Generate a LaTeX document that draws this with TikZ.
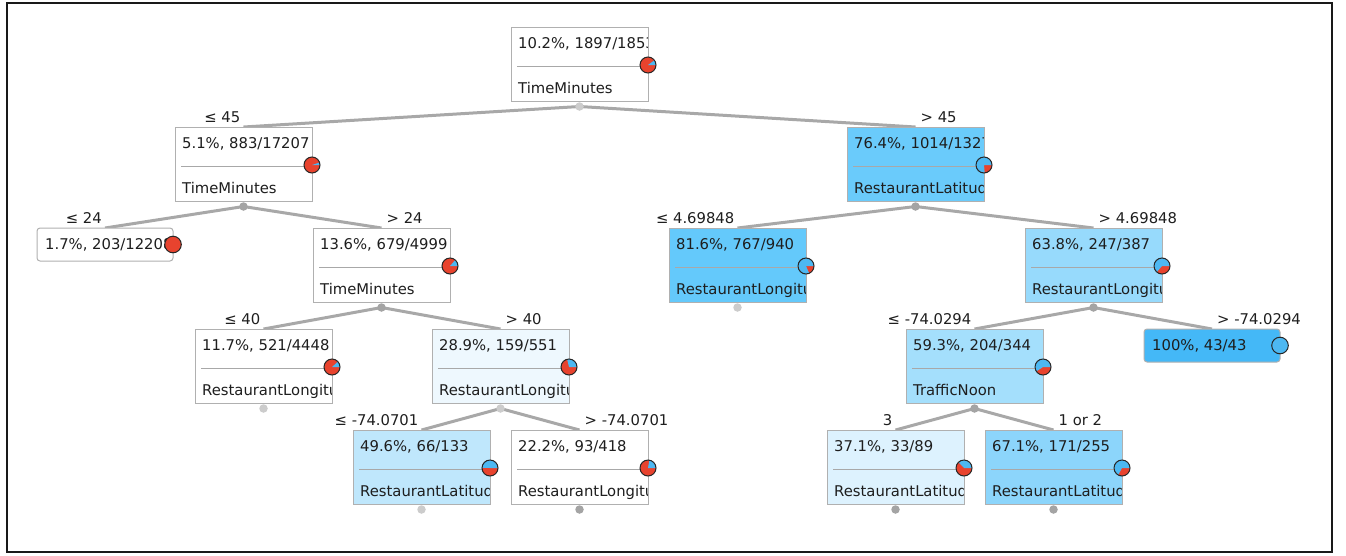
\documentclass[tikz,border=0pt]{standalone}
\usepackage{fontspec}
\setmainfont{DejaVu Sans}
\usetikzlibrary{calc}
\pgfdeclarelayer{bg}
\pgfsetlayers{bg,main}
\definecolor{pred}{HTML}{E8432E}
\definecolor{pblue}{HTML}{4DB8F2}
\definecolor{boxgray}{HTML}{B0B0B0}
\definecolor{sepgray}{HTML}{A8A8A8}
\definecolor{edgegray}{HTML}{A8A8A8}
\definecolor{dotlight}{HTML}{CCCCCC}
\definecolor{dotdark}{HTML}{A4A4A4}
\definecolor{txtcol}{HTML}{1E1E1E}
\definecolor{fLRR}{HTML}{EEF8FE}
\definecolor{fLRRL}{HTML}{BFE7FC}
\definecolor{fR}{HTML}{6ACBFB}
\definecolor{fRL}{HTML}{64C9FB}
\definecolor{fRR}{HTML}{97DAFC}
\definecolor{fRRL}{HTML}{A4DFFC}
\definecolor{fRRR}{HTML}{44B8F7}
\definecolor{fRRLL}{HTML}{DDF2FE}
\definecolor{fRRLR}{HTML}{8CD5FB}
\tikzset{
  tbox/.style={draw=boxgray, line width=1pt, minimum width=137pt, minimum height=74pt, inner sep=0pt, outer sep=0pt, anchor=north west},
  lbox/.style={draw=boxgray, line width=1pt, minimum width=136pt, minimum height=33pt, inner sep=0pt, outer sep=0pt, anchor=north west, rounded corners=3pt},
  txt/.style={inner sep=0pt, font=\fontsize{14.8}{17}\selectfont, anchor=base west, text=txtcol},
  cond/.style={inner sep=0pt, font=\fontsize{14.8}{17}\selectfont, text=txtcol},
  sepline/.style={draw=sepgray, line width=0.9pt},
  edgeline/.style={draw=edgegray, line width=3pt},
  dotl/.style={circle, fill=dotlight, minimum size=8.5pt, inner sep=0pt},
  dotd/.style={circle, fill=dotdark, minimum size=8.5pt, inner sep=0pt},
  pieedge/.style={draw=black!85, line width=1pt},
}
% name, x, y, fill, frac, line1, line2, dotstyle
\newcommand\treenode[8]{%
  \node[tbox, fill=#4] (#1) at (#2,#3) {};
  \begin{scope}
    \clip ($(#1.north west)+(1,1)$) rectangle ($(#1.south east)+(-1,-1)$);
    \node[txt] (#1-t) at ($(#1.north west)+(7,21)$) {#6};
    \node[txt] (#1-v) at ($(#1.north west)+(7,66)$) {#7};
  \end{scope}
  \draw[sepline] ($(#1.north west)+(6,39)$) -- ($(#1.north east)+(-4,39)$);
  \coordinate (#1-pie) at ($(#1.north east)+(0,38)$);
  \fill[pred] (#1-pie) circle (8);
  \fill[pblue] (#1-pie) -- ++(8,0) arc[start angle=0, end angle={-360*#5}, radius=8] -- cycle;
  \draw[pieedge] (#1-pie) circle (8);
  \node[#8] (#1-dot) at ($(#1.south)+(0,5.5)$) {};
}
% name, x, y, fill, text, circle colour
\newcommand\leafnode[6]{%
  \node[lbox, fill=#4] (#1) at (#2,#3) {};
  \begin{scope}
    \clip ($(#1.north west)+(1,1)$) rectangle ($(#1.south east)+(-1,-1)$);
    \node[txt] (#1-t) at ($(#1.north west)+(8,21)$) {#5};
  \end{scope}
  \coordinate (#1-pie) at (#1.east);
  \fill[#6] (#1-pie) circle (8.3);
  \draw[pieedge] (#1-pie) circle (8.3);
}
\begin{document}
\begin{tikzpicture}[x=1pt,y=-1pt]
\useasboundingbox (0,0) rectangle (1346,555);
\draw[black!90, line width=1.5pt] (7,3) rectangle (1332,552);

\treenode{root}{511}{27}{white}{0.102}{10.2\%, 1897/18534}{TimeMinutes}{dotl}
\treenode{L}{175}{127}{white}{0.051}{5.1\%, 883/17207}{TimeMinutes}{dotd}
\leafnode{LL}{37}{228}{white}{1.7\%, 203/12208}{pred}
\treenode{LR}{313}{228}{white}{0.136}{13.6\%, 679/4999}{TimeMinutes}{dotd}
\treenode{LRL}{195}{329}{white}{0.117}{11.7\%, 521/4448}{RestaurantLongitude}{dotl}
\treenode{LRR}{432}{329}{fLRR}{0.289}{28.9\%, 159/551}{RestaurantLongitude}{dotl}
\treenode{LRRL}{353}{430}{fLRRL}{0.496}{49.6\%, 66/133}{RestaurantLatitude}{dotl}
\treenode{LRRR}{511}{430}{white}{0.222}{22.2\%, 93/418}{RestaurantLongitude}{dotd}
\treenode{R}{847}{127}{fR}{0.764}{76.4\%, 1014/1327}{RestaurantLatitude}{dotd}
\treenode{RL}{669}{228}{fRL}{0.816}{81.6\%, 767/940}{RestaurantLongitude}{dotl}
\treenode{RR}{1025}{228}{fRR}{0.638}{63.8\%, 247/387}{RestaurantLongitude}{dotd}
\treenode{RRL}{906}{329}{fRRL}{0.593}{59.3\%, 204/344}{TrafficNoon}{dotd}
\leafnode{RRR}{1144}{329}{fRRR}{100\%, 43/43}{pblue}
\treenode{RRLL}{827}{430}{fRRLL}{0.371}{37.1\%, 33/89}{RestaurantLatitude}{dotd}
\treenode{RRLR}{985}{430}{fRRLR}{0.671}{67.1\%, 171/255}{RestaurantLatitude}{dotd}

\begin{pgfonlayer}{bg}
\draw[edgeline] (root-dot.center) -- (L.north);
\draw[edgeline] (root-dot.center) -- (R.north);
\draw[edgeline] (L-dot.center) -- (LL.north);
\draw[edgeline] (L-dot.center) -- (LR.north);
\draw[edgeline] (LR-dot.center) -- (LRL.north);
\draw[edgeline] (LR-dot.center) -- (LRR.north);
\draw[edgeline] (LRR-dot.center) -- (LRRL.north);
\draw[edgeline] (LRR-dot.center) -- (LRRR.north);
\draw[edgeline] (R-dot.center) -- (RL.north);
\draw[edgeline] (R-dot.center) -- (RR.north);
\draw[edgeline] (RR-dot.center) -- (RRL.north);
\draw[edgeline] (RR-dot.center) -- (RRR.north);
\draw[edgeline] (RRL-dot.center) -- (RRLL.north);
\draw[edgeline] (RRL-dot.center) -- (RRLR.north);
\end{pgfonlayer}

\node[cond, anchor=base east] (cL) at ($(L.north)+(-3,-5)$) {≤ 45};
\node[cond, anchor=base west] (cR) at ($(R.north)+(5,-5)$) {> 45};
\node[cond, anchor=base east] (cLL) at ($(LL.north)+(-3,-5)$) {≤ 24};
\node[cond, anchor=base west] (cLR) at ($(LR.north)+(5,-5)$) {> 24};
\node[cond, anchor=base east] (cLRL) at ($(LRL.north)+(-3,-5)$) {≤ 40};
\node[cond, anchor=base west] (cLRR) at ($(LRR.north)+(5,-5)$) {> 40};
\node[cond, anchor=base east] (cLRRL) at ($(LRRL.north)+(-3,-5)$) {≤ -74.0701};
\node[cond, anchor=base west] (cLRRR) at ($(LRRR.north)+(5,-5)$) {> -74.0701};
\node[cond, anchor=base east] (cRL) at ($(RL.north)+(-3,-5)$) {≤ 4.69848};
\node[cond, anchor=base west] (cRR) at ($(RR.north)+(5,-5)$) {> 4.69848};
\node[cond, anchor=base east] (cRRL) at ($(RRL.north)+(-3,-5)$) {≤ -74.0294};
\node[cond, anchor=base west] (cRRR) at ($(RRR.north)+(5,-5)$) {> -74.0294};
\node[cond, anchor=base east] (cRRLL) at ($(RRLL.north)+(-3,-5)$) {3};
\node[cond, anchor=base west] (cRRLR) at ($(RRLR.north)+(5,-5)$) {1 or 2};
\end{tikzpicture}
\end{document}
